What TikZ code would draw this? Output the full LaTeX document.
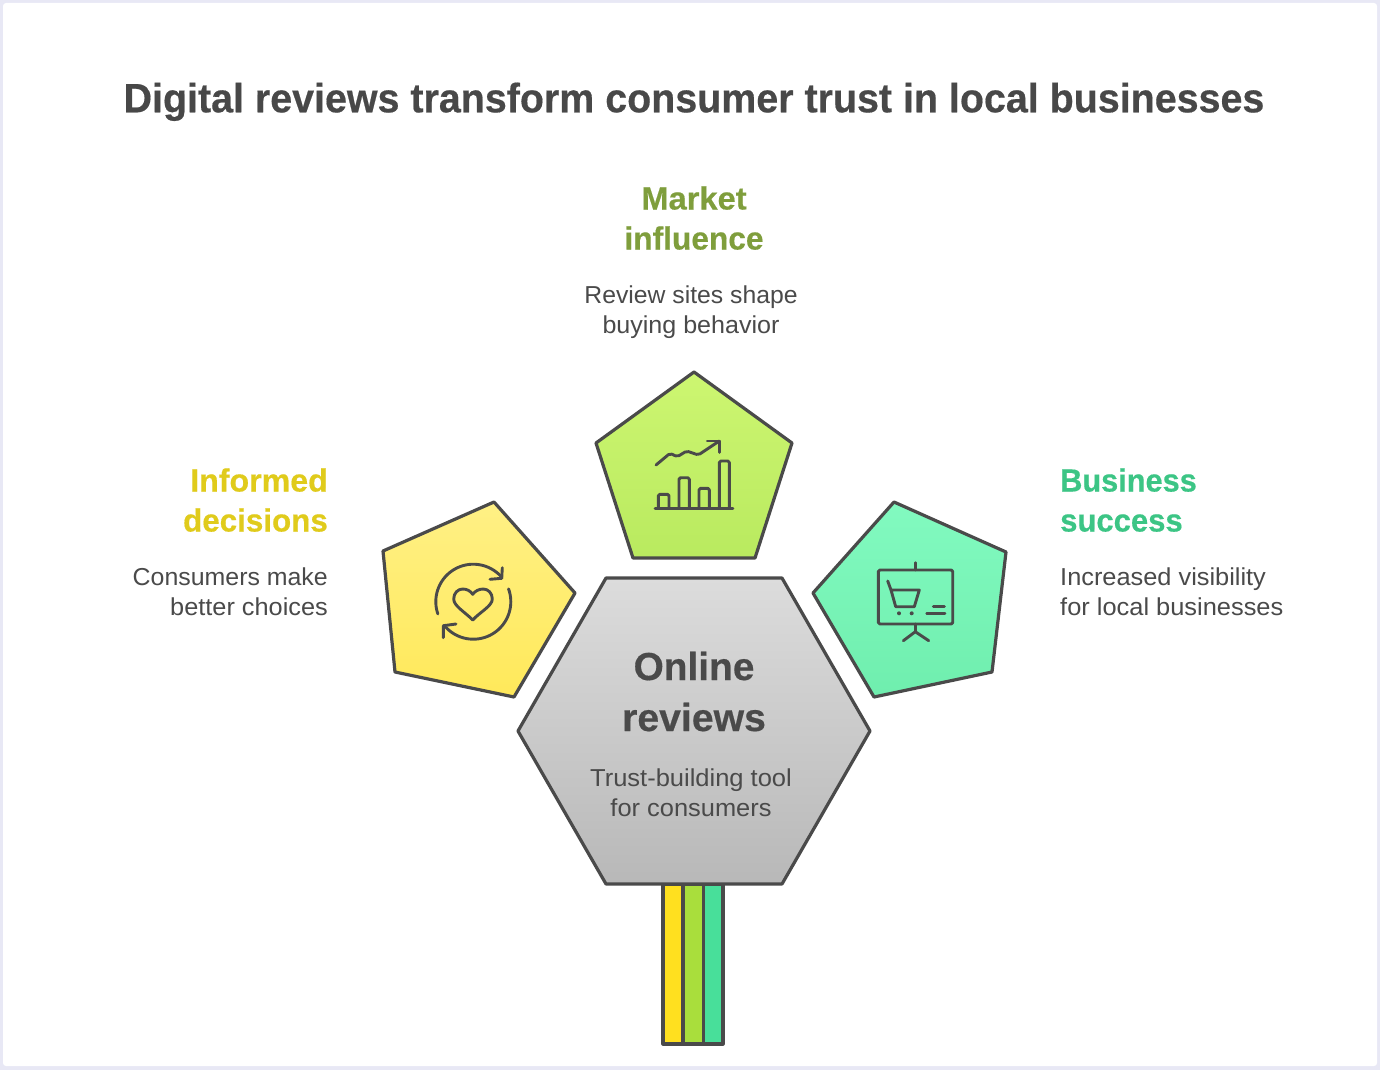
\documentclass[tikz,border=0pt]{standalone}
\usepackage{fontspec}
\setmainfont[BoldFeatures={FakeBold=0.45}]{Liberation Sans}
\newcommand\sx[2]{\scalebox{#1}[1]{#2}}
\definecolor{ink}{HTML}{4A4A4A}
\definecolor{framec}{HTML}{E8E8F5}
\definecolor{titlec}{HTML}{484848}
\definecolor{marketc}{HTML}{7F9E3C}
\definecolor{informc}{HTML}{E0CB1B}
\definecolor{bizc}{HTML}{3CC585}
\definecolor{gt}{HTML}{CDF671}\definecolor{gb}{HTML}{B9EA5F}
\definecolor{yt}{HTML}{FFF085}\definecolor{yb}{HTML}{FFE95A}
\definecolor{tt}{HTML}{82FAC0}\definecolor{tb}{HTML}{6FEEAE}
\definecolor{ht}{HTML}{DCDCDC}\definecolor{hb}{HTML}{B8B8B8}
\definecolor{s1}{HTML}{FFE01F}\definecolor{s2}{HTML}{A9DE3C}\definecolor{s3}{HTML}{48DF9A}
\tikzset{
  shapeline/.style={draw=ink,line width=3.2pt,line join=round},
  icon/.style={draw=ink,line width=2.9pt,line cap=round,line join=round},
  titletext/.style={anchor=base,inner sep=0pt,text=titlec,font=\fontsize{41}{41}\selectfont\bfseries},
  headtext/.style={inner sep=0pt,font=\fontsize{32}{32}\selectfont\bfseries},
  bodytext/.style={inner sep=0pt,text=ink,font=\fontsize{24.5}{24.5}\selectfont},
  bigtext/.style={anchor=base,inner sep=0pt,text=ink,font=\fontsize{39}{39}\selectfont\bfseries},
}
\begin{document}
\begin{tikzpicture}[x=1pt,y=-1pt]
\useasboundingbox (0,0) rectangle (1380,1070);
\fill[framec] (0,0) rectangle (1380,1070);
\fill[white,rounded corners=3pt] (3,3) rectangle (1377,1066);

% stripes
\draw[shapeline,fill=s1] (663,884) rectangle (683,1044);
\draw[shapeline,fill=s2] (683,884) rectangle (703.5,1044);
\draw[shapeline,fill=s3] (703.5,884) rectangle (723,1044);

% shapes
\draw[shapeline,top color=ht,bottom color=hb] (606,578) -- (782,578) -- (870,731) -- (782,884) -- (606,884) -- (518,731) -- cycle;
\draw[shapeline,top color=gt,bottom color=gb] (694,372) -- (792,443) -- (755,558) -- (633,558) -- (596,443) -- cycle;
\draw[shapeline,top color=yt,bottom color=yb] (494,502) -- (575,593) -- (514,697) -- (395,672) -- (383,551) -- cycle;
\draw[shapeline,top color=tt,bottom color=tb] (894,502) -- (1006,552) -- (992,672) -- (874,697) -- (813,593) -- cycle;

% chart icon
\draw[icon] (655,508.3) -- (733,508.3);
\draw[icon,rounded corners=1.5pt] (658.3,508.3) -- (658.3,494.3) -- (669,494.3) -- (669,508.3);
\draw[icon,rounded corners=1.5pt] (679,508.3) -- (679,477.7) -- (689.3,477.7) -- (689.3,508.3);
\draw[icon,rounded corners=1.5pt] (699,508.3) -- (699,488.3) -- (709.3,488.3) -- (709.3,508.3);
\draw[icon,rounded corners=1.5pt] (719.3,508.3) -- (719.3,461) -- (729.3,461) -- (729.3,508.3);
\draw[icon,rounded corners=2pt] (656,465) -- (670,453.3) -- (677.3,456.7) -- (686.7,451) -- (698.3,455) -- (719.3,441);
\draw[icon] (707.3,441) -- (719.3,441) -- (719.3,452.3);

% heart icon
\draw[icon] plot[domain=199:40,samples=40] ({473.3+37.5*cos(\x)},{601.7-37.5*sin(\x)});
\draw[icon] plot[domain=20:-137,samples=40] ({473.3+37.5*cos(\x)},{601.7-37.5*sin(\x)});
\draw[icon] (490,579.3) -- (501.7,578.3) -- (502.3,567.7);
\draw[icon] (456,624) -- (443.3,625.7) -- (443.3,637.7);
\draw[icon] (472.7,620) .. controls (465,612) and (453.7,606) .. (453.7,599)
  .. controls (453.7,593) and (458,589) .. (462.7,589)
  .. controls (467,589) and (470.5,591) .. (472.7,594.3)
  .. controls (475,591) and (479,589) .. (483.3,589)
  .. controls (488,589) and (492.3,593) .. (492.3,599)
  .. controls (492.3,606) and (480,612) .. (472.7,620) -- cycle;

% board icon
\draw[icon,rounded corners=1.5pt] (878.3,570) rectangle (952.7,624);
\draw[icon] (915.3,562.7) -- (915.3,570);
\draw[icon] (915.3,624) -- (915.3,631.7);
\draw[icon] (903.3,640.7) -- (915.3,631.7) -- (928.7,640.7);
\draw[icon] (887.7,581) -- (891,590) -- (895.7,606.7) -- (914.3,606.7) -- (919.3,590) -- (891,590);
\fill[ink] (899,613.3) circle (2pt) (911.7,613.3) circle (2pt);
\draw[icon] (933.3,606.7) -- (944.3,606.7);
\draw[icon] (926.7,613.3) -- (945,613.3);

% texts
\node[titletext] (title) at (694,112.3) {\sx{0.961}{Digital reviews transform consumer trust in local businesses}};
\node[headtext,anchor=base,text=marketc] (m1) at (694,209.5) {\sx{1.02}{Market}};
\node[headtext,anchor=base,text=marketc] (m2) at (694,249.5) {\sx{0.99}{influence}};
\node[bodytext,anchor=base] (m3) at (691,303) {\sx{1.01}{Review sites shape}};
\node[bodytext,anchor=base] (m4) at (691,333) {\sx{1.023}{buying behavior}};
\node[headtext,anchor=base east,text=informc] (i1) at (328,491.5) {\sx{1.005}{Informed}};
\node[headtext,anchor=base east,text=informc] (i2) at (328,531.5) {\sx{0.98}{decisions}};
\node[bodytext,anchor=base east] (i3) at (328,585) {\sx{1.016}{Consumers make}};
\node[bodytext,anchor=base east] (i4) at (328,615) {\sx{1.033}{better choices}};
\node[headtext,anchor=base west,text=bizc] (b1) at (1060,491.5) {\sx{0.96}{Business}};
\node[headtext,anchor=base west,text=bizc] (b2) at (1060,531.5) {\sx{0.97}{success}};
\node[bodytext,anchor=base west] (b3) at (1060,585) {\sx{1.035}{Increased visibility}};
\node[bodytext,anchor=base west] (b4) at (1060,615) {\sx{1.037}{for local businesses}};
\node[bigtext] (o1) at (694,680) {\sx{0.995}{Online}};
\node[bigtext] (o2) at (694,731) {\sx{1.005}{reviews}};
\node[bodytext,anchor=base] (o3) at (691,786) {\sx{1.041}{Trust-building tool}};
\node[bodytext,anchor=base] (o4) at (691,816) {\sx{1.038}{for consumers}};
\end{tikzpicture}
\end{document}
